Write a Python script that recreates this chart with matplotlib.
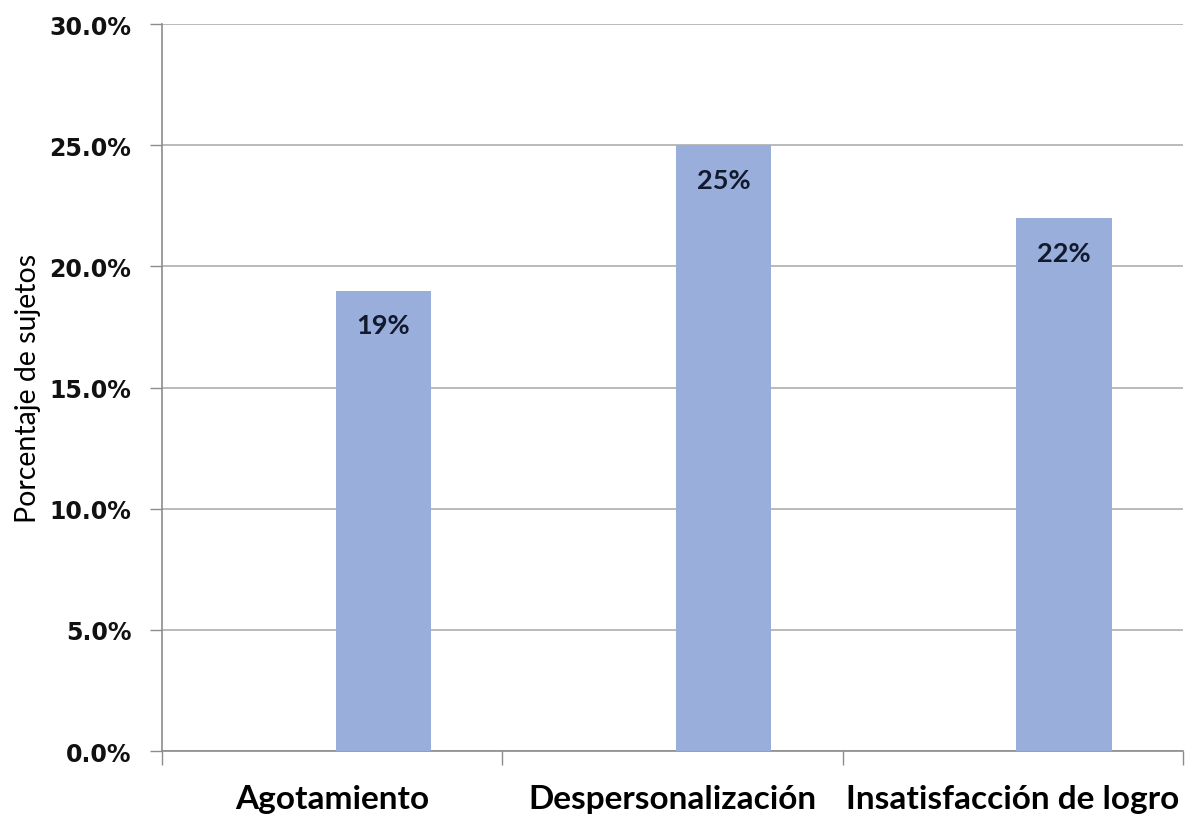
import matplotlib.pyplot as plt
from matplotlib.ticker import FuncFormatter

# burnout dimensions and share of subjects in each
dimensiones = ["Agotamiento", "Despersonalización", "Insatisfacción de logro"]
porcentajes = [19, 25, 22]
etiquetas = ["19%", "25%", "22%"]
y_ticks = [0, 5, 10, 15, 20, 25, 30]

bar_color = "#9aaedb"
grid_color = "#b4b4b4"
axis_color = "#8c8c8c"

fig = plt.figure(figsize=(11.92, 8.2), dpi=100)
ax = fig.add_axes([0.1359, 0.0829, 0.8566, 0.8866])

x = [i + 0.5 for i in range(len(dimensiones))]
bar_x = [xi + 0.15 for xi in x]
bars = ax.bar(bar_x, porcentajes, width=0.28, color=bar_color, zorder=3)

for b, txt in zip(bars, etiquetas):
    ax.annotate(txt, (b.get_x() + b.get_width() / 2, b.get_height()),
                xytext=(0, -25), textcoords="offset points",
                ha="center", va="center", fontsize=19.5, fontweight="bold",
                family=["Lato", "DejaVu Sans"], color="#111a2e", zorder=4)

ax.set_xlim(0, 3)
ax.set_ylim(0, 30)
ax.set_yticks(y_ticks)
ax.yaxis.set_major_formatter(FuncFormatter(lambda v, p: f"{v:.1f}%"))
ax.tick_params(axis="y", length=9, width=1, color=axis_color, pad=13,
               labelsize=17)
for lab in ax.get_yticklabels():
    lab.set_fontweight("bold")
    lab.set_color("#111111")

# category labels centred, tick marks at the category boundaries
ax.set_xticks(x)
ax.set_xticklabels(dimensiones, fontsize=24, fontweight="bold",
                   family=["Lato", "DejaVu Sans"])
ax.tick_params(axis="x", length=0, pad=24)
ax.set_xticks([0, 1, 2, 3], minor=True)
ax.tick_params(axis="x", which="minor", length=10, width=1, color=axis_color)

ax.yaxis.grid(True, color=grid_color, linewidth=1.3, zorder=0)
ax.set_axisbelow(True)
for s in ["top", "right"]:
    ax.spines[s].set_visible(False)
for s in ["left", "bottom"]:
    ax.spines[s].set_color(axis_color)
    ax.spines[s].set_linewidth(1.2)

ax.set_ylabel("Porcentaje de sujetos", fontsize=20.5,
              family=["Lato", "DejaVu Sans"], labelpad=6)

fig.savefig("out.png", dpi=100)
